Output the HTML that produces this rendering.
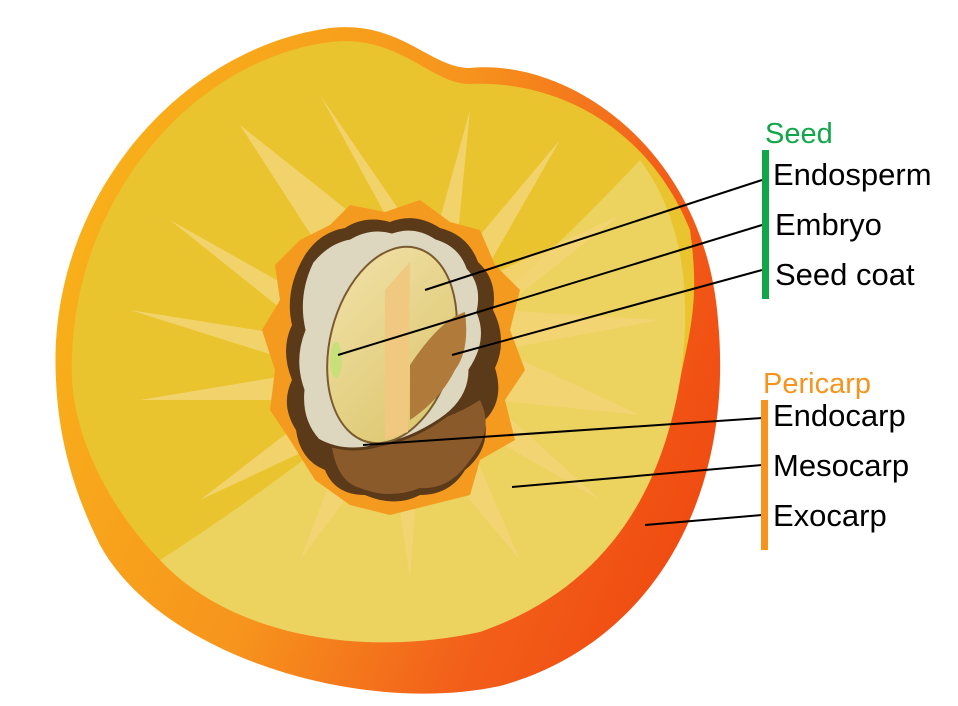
<!DOCTYPE html>
<html><head><meta charset="utf-8"><style>
html,body{margin:0;padding:0;background:#fff;}
svg{display:block;}
text{font-family:"Liberation Sans",sans-serif;font-size:31px;}
</style></head><body>
<svg width="958" height="706" viewBox="0 0 958 706" xmlns="http://www.w3.org/2000/svg">
<defs>
<linearGradient id="skin" x1="0" y1="0.3" x2="1" y2="0.7">
<stop offset="0" stop-color="#f8b21a"/><stop offset="0.45" stop-color="#f7941d"/><stop offset="0.75" stop-color="#f2601a"/><stop offset="1" stop-color="#f04a10"/>
</linearGradient>
<linearGradient id="seed" x1="0" y1="0" x2="1" y2="1">
<stop offset="0" stop-color="#f2e1a8"/><stop offset="1" stop-color="#d9c56a"/>
</linearGradient>
</defs>
<path d="M56,380 C46,200 180,48 330,28 C400,20 430,68 470,68 C570,58 705,150 718,320 C735,500 650,645 500,686 C360,716 160,655 100,545 C70,485 58,430 56,380Z" fill="url(#skin)"/>
<path d="M72,380 C66,205 190,60 330,42 C400,34 430,84 470,84 C560,80 650,130 690,230 C700,300 690,330 680,380 C660,500 600,590 480,630 C350,660 225,630 160,560 C120,520 76,450 72,380Z" fill="#e9c42e"/>
<path d="M160,560 C300,470 480,330 640,160 C685,220 692,300 680,380 C660,500 600,590 480,632 C350,660 225,630 160,560Z" fill="#ecd25e"/>
<g fill="#f3d576" opacity="0.85">
<polygon points="395,365 240,125 410,260 320,95 430,255 470,110 455,265 560,140 480,280 620,215 500,310 660,320 500,350 640,415 490,400 600,500 460,420 520,560 420,440 410,580 390,440 300,560 350,430 200,500 330,400 140,400 320,370 130,310 320,340 170,220 330,310"/>
</g>
<path d="M300,240 L330,225 L350,205 L385,212 L420,200 L450,222 L480,230 L495,265 L520,290 L510,330 L525,370 L505,400 L515,440 L480,460 L470,495 L430,505 L390,515 L350,505 L315,480 L290,440 L270,410 L275,370 L262,330 L280,300 L275,265Z" fill="#f39a1f"/>
<path d="M305,255 Q320,232 345,228 Q365,215 390,222 Q415,212 440,228 Q468,235 478,262 Q498,280 493,310 Q508,340 495,368 Q505,400 485,420 Q490,450 465,470 Q450,495 420,495 Q395,508 365,495 Q335,495 325,470 Q300,460 296,430 Q280,405 292,380 Q280,350 292,325 Q284,290 305,255Z" fill="#5b3a1a"/>
<path d="M330,420 Q360,410 400,430 Q450,420 480,400 Q495,430 470,460 Q450,490 420,488 Q390,500 360,488 Q330,480 330,420Z" fill="#8a5a2a"/>
<path d="M312,262 Q328,242 350,238 Q370,226 392,232 Q415,224 436,238 Q460,245 468,268 Q484,285 478,312 Q490,340 470,370 Q470,400 440,420 Q410,440 380,445 Q345,455 318,440 Q300,420 303,390 Q292,360 304,330 Q296,295 312,262Z" fill="#ded7c0" stroke="#5b3a1a" stroke-width="3"/>
<ellipse cx="392" cy="345" rx="62" ry="100" transform="rotate(14 392 345)" fill="url(#seed)" stroke="#7a5a30" stroke-width="2"/>
<path d="M385,290 L410,262 L408,432 L385,440Z" fill="#f0c880"/>
<path d="M410,365 Q440,320 465,312 Q470,350 455,370 Q440,400 410,420Z" fill="#b07a3a"/>
<ellipse cx="336" cy="360" rx="6" ry="18" fill="#c8e07a"/>
<g stroke="#000" stroke-width="2">
<line x1="762" y1="180" x2="425" y2="290"/>
<line x1="762" y1="225" x2="338" y2="355"/>
<line x1="762" y1="270" x2="452" y2="355"/>
<line x1="762" y1="418" x2="363" y2="445"/>
<line x1="762" y1="465" x2="512" y2="487"/>
<line x1="762" y1="515" x2="645" y2="525"/>
</g>
<rect x="762" y="150" width="7" height="149" fill="#12a64a"/>
<rect x="761" y="400" width="7" height="150" fill="#f7941d"/>
<text x="765" y="143" fill="#12a64a" style="font-size:29px">Seed</text>
<text x="773" y="185" fill="#000">Endosperm</text>
<text x="775" y="235" fill="#000">Embryo</text>
<text x="775" y="285" fill="#000">Seed coat</text>
<text x="763" y="393" fill="#f7941d" style="font-size:29px">Pericarp</text>
<text x="773" y="426" fill="#000">Endocarp</text>
<text x="773" y="476" fill="#000">Mesocarp</text>
<text x="773" y="526" fill="#000">Exocarp</text>
</svg>
</body></html>
